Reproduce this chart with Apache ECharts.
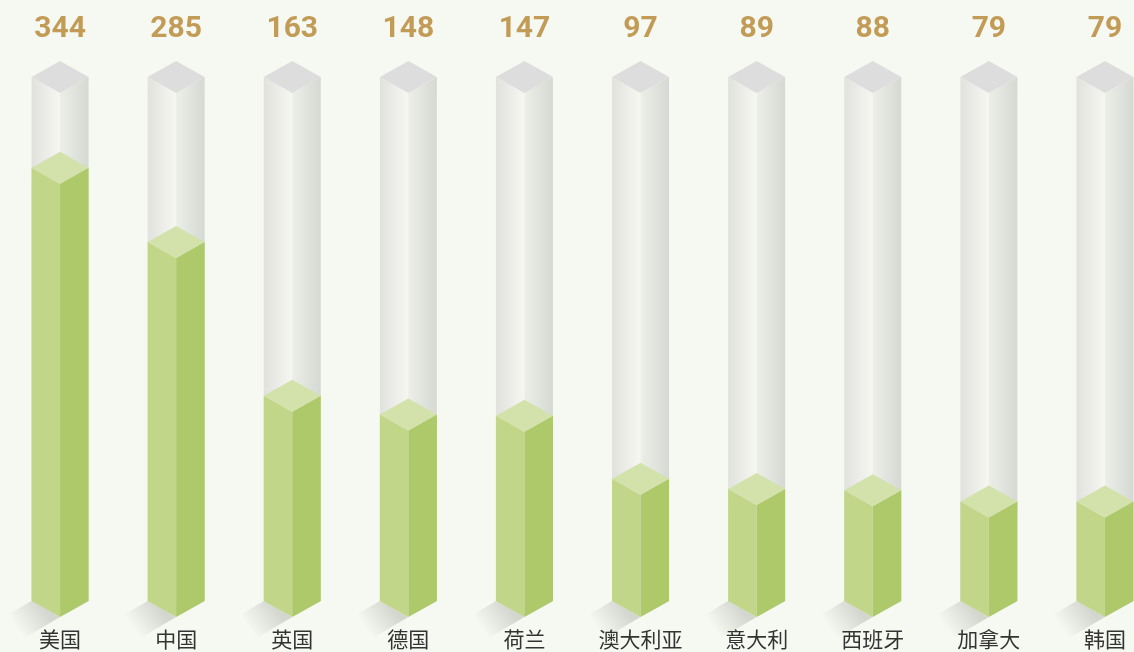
<!DOCTYPE html>
<html>
<head>
<meta charset="utf-8">
<script src="https://cdn.jsdelivr.net/npm/echarts@6/dist/echarts.min.js"></script>
<style>
html,body{margin:0;padding:0;background:#f6f9f1;}
#main{width:1134px;height:652px;}
</style>
</head>
<body>
<div id="main"></div>
<script>
var categories = ['美国', '中国', '英国', '德国', '荷兰', '澳大利亚', '意大利', '西班牙', '加拿大', '韩国'];
var values = [344, 285, 163, 148, 147, 97, 89, 88, 79, 79];
var backgroundValue = 416;

var W = 28.5, H = 16;

function face(points, fill) {
  return { type: 'polygon', shape: { points: points }, style: { fill: fill }, silent: true };
}

function renderItem(params, api) {
  var idx = api.value(0);
  var val = api.value(1);
  var top = api.coord([idx, val]);
  var base = api.coord([idx, 0]);
  var bg = api.coord([idx, backgroundValue]);
  var x = top[0], y = top[1], y0 = base[1], yb = bg[1];
  var children = [];
  // background prism
  children.push(face([[x, yb], [x - W, yb - H], [x - W, y0 - H], [x, y0]],
    new echarts.graphic.LinearGradient(0, 0, 1, 0, [
      { offset: 0, color: '#e1e2de' }, { offset: 1, color: '#f6f7f1' }])));
  children.push(face([[x, yb], [x + W, yb - H], [x + W, y0 - H], [x, y0]],
    new echarts.graphic.LinearGradient(0, 0, 1, 0, [
      { offset: 0, color: '#eceee8' }, { offset: 1, color: '#d6d8d3' }])));
  children.push(face([[x, yb], [x + W, yb - H], [x, yb - 2 * H], [x - W, yb - H]], '#dcdddc'));
  // shadow
  children.push(face([[x - W, y0 - H], [x, y0], [x - 34, y0 + 20], [x - W - 34, y0 - H + 20]],
    new echarts.graphic.LinearGradient(0.75, 0.2, 0.3, 0.75, [
      { offset: 0, color: 'rgba(0,0,0,0.14)' }, { offset: 1, color: 'rgba(0,0,0,0)' }])));
  // green prism
  children.push(face([[x, y], [x - W, y - H], [x - W, y0 - H], [x, y0]], '#c2d68a'));
  children.push(face([[x, y], [x + W, y - H], [x + W, y0 - H], [x, y0]], '#aec96a'));
  children.push(face([[x, y], [x + W, y - H], [x, y - 2 * H], [x - W, y - H]], '#d3e2ab'));
  // value label
  children.push({
    type: 'text', silent: true,
    style: {
      x: x, y: yb - 64, text: String(val), align: 'center', verticalAlign: 'middle',
      fill: '#c29b57', font: 'bold 30px Roboto, "Liberation Sans", sans-serif'
    }
  });
  return { type: 'group', children: children };
}

var chart = echarts.init(document.getElementById('main'), null, { renderer: 'canvas' });
chart.setOption({
  backgroundColor: '#f6f9f1',
  animation: false,
  grid: { left: 2, width: 1161, top: 93, bottom: 35, containLabel: false, outerBoundsMode: 'none' },
  xAxis: {
    type: 'category', data: categories,
    axisLine: { show: false }, axisTick: { show: false },
    axisLabel: { color: '#333', fontSize: 21, margin: 12, fontFamily: '"Noto Sans CJK SC", sans-serif' }
  },
  yAxis: { type: 'value', min: 0, max: backgroundValue, show: false, splitLine: { show: false } },
  series: [{
    type: 'custom', renderItem: renderItem, clip: false,
    data: values.map(function (v, i) { return [i, v]; })
  }]
});
</script>
</body>
</html>
